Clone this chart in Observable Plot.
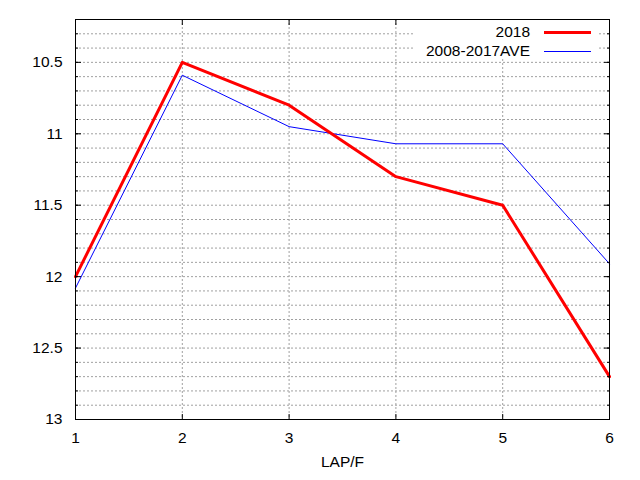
<!DOCTYPE html>
<html>
<head>
<meta charset="utf-8">
<script src="https://cdn.jsdelivr.net/npm/d3@7"></script>
<script src="https://cdn.jsdelivr.net/npm/@observablehq/plot@0.6"></script>
<style>
  html, body { margin: 0; padding: 0; background: #fff; }
  #wrap { position: relative; width: 640px; height: 480px; font-family: "Liberation Sans", Arial, sans-serif; }
  #legend { position: absolute; left: 413px; top: 20px; width: 185px; height: 37px; background: #fff; font-size: 15.5px; color: #000; }
  .row { position: absolute; right: 0; height: 18px; display: flex; align-items: center; }
  .row span { margin-right: 14px; }
  .sw { width: 47px; margin-right: 7px; }
</style>
</head>
<body>
<div id="wrap"></div>
<script>
// Data
const laps = [1, 2, 3, 4, 5, 6];
const series2018 = [12.0, 10.5, 10.8, 11.3, 11.5, 12.7];
const seriesAve = [12.08, 10.59, 10.95, 11.07, 11.07, 11.91];
const seriesNames = ["2018", "2008-2017AVE"];
const seriesColors = ["#ff0000", "#0000ff"];
const seriesWidths = [3, 1];
const yTicks = [10.5, 11, 11.5, 12, 12.5, 13];
const yMinorTicks = d3.range(103, 130).map(v => v / 10);
const xGrid = [2, 3, 4, 5];
const xLabel = "LAP/F";

const rows = [];
laps.forEach((l, i) => {
  rows.push({lap: l, v: series2018[i], s: seriesNames[0]});
  rows.push({lap: l, v: seriesAve[i], s: seriesNames[1]});
});

const dotted = {stroke: "#a0a0a0", strokeDasharray: "2,2", strokeWidth: 1};

const chart = Plot.plot({
  width: 640,
  height: 480,
  marginLeft: 75,
  marginRight: 31,
  marginTop: 19,
  marginBottom: 61,
  style: {fontFamily: "Liberation Sans, Arial, sans-serif", fontSize: "15.5px", color: "#000", background: "#fff"},
  x: {domain: [1, 6]},
  y: {domain: [10.2, 13], reverse: true},
  marks: [
    Plot.ruleY(yMinorTicks, dotted),
    Plot.ruleX(xGrid, dotted),
    Plot.lineY(rows.filter(d => d.s === seriesNames[1]), {x: "lap", y: "v", stroke: seriesColors[1], strokeWidth: seriesWidths[1]}),
    Plot.lineY(rows.filter(d => d.s === seriesNames[0]), {x: "lap", y: "v", stroke: seriesColors[0], strokeWidth: seriesWidths[0]}),
    Plot.frame({stroke: "#000", strokeWidth: 1}),
    // y ticks inward, left and right
    Plot.axisY(yTicks, {anchor: "left", tickSize: -6, text: null, label: null, stroke: "#000"}),
    Plot.axisY(yMinorTicks, {anchor: "left", tickSize: -3, text: null, label: null, stroke: "#000"}),
    Plot.axisY(yTicks, {anchor: "right", tickSize: -6, text: null, label: null, stroke: "#000"}),
    Plot.axisY(yMinorTicks, {anchor: "right", tickSize: -3, text: null, label: null, stroke: "#000"}),
    Plot.axisY(yTicks, {anchor: "left", tickSize: 0, tickPadding: 13, tickFormat: d => String(d), label: null}),
    // x ticks inward, bottom and top
    Plot.axisX(laps, {anchor: "bottom", tickSize: -5, text: null, label: null, stroke: "#000"}),
    Plot.axisX(laps, {anchor: "top", tickSize: -5, text: null, label: null, stroke: "#000"}),
    Plot.axisX(laps, {anchor: "bottom", tickSize: 0, tickPadding: 12, tickFormat: d => String(d), label: null}),
    Plot.text([xLabel], {frameAnchor: "bottom", dy: 47, text: d => d, fill: "#000"})
  ]
});

const wrap = document.getElementById("wrap");
wrap.appendChild(chart);

const legend = document.createElement("div");
legend.id = "legend";
seriesNames.forEach((name, i) => {
  const row = document.createElement("div");
  row.className = "row";
  row.style.top = (i * 19 + 3) + "px";
  const t = document.createElement("span");
  t.textContent = name;
  t.style.marginRight = "14px";
  const sw = document.createElement("div");
  sw.className = "sw";
  sw.style.height = seriesWidths[i] + "px";
  sw.style.background = seriesColors[i];
  row.appendChild(t);
  row.appendChild(sw);
  legend.appendChild(row);
});
wrap.appendChild(legend);
</script>
</body>
</html>
